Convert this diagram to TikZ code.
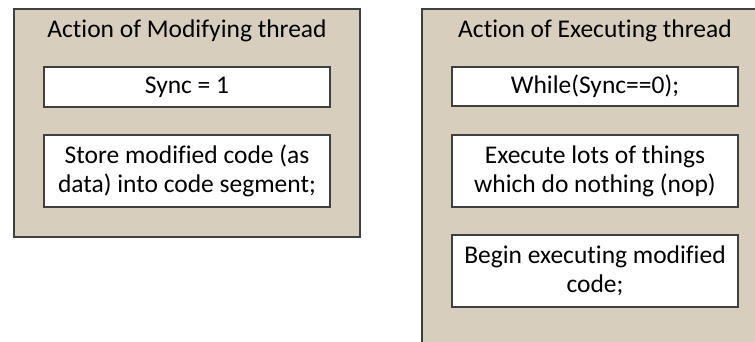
\documentclass[tikz,border=0pt]{standalone}
\usepackage{fontspec}
\setmainfont{Carlito}[Ligatures={NoCommon,NoRequired,NoContextual}]
\definecolor{tanbg}{RGB}{216,206,190}
\definecolor{edge}{RGB}{64,64,64}
\begin{document}
\begin{tikzpicture}[x=1pt,y=-1pt,
  outerbox/.style={draw=edge,line width=1.5pt,fill=tanbg},
  stepbox/.style={draw=edge,line width=1.5pt,fill=white,inner sep=0pt,align=center,
    font=\fontsize{25.5}{29}\selectfont},
  titletext/.style={font=\fontsize{25.5}{29}\selectfont,inner sep=0pt}]
\useasboundingbox (0,0) rectangle (755,342);
\clip (0,0) rectangle (755,342);
\fill[white] (0,0) rectangle (755,342);
% left panel
\draw[outerbox] (14,9) rectangle (360,237);
\node[titletext] (ltitle) at (187,31) {Action of Modifying thread};
\node[stepbox,minimum width=286pt,minimum height=40pt] (sync) at (187,87) {Sync = 1};
\node[stepbox,minimum width=286pt,minimum height=72pt] (store) at (187,171) {Store modified code (as\\data) into code segment;};
% right panel
\draw[outerbox] (422,9) rectangle (770,360);
\node[titletext] (rtitle) at (595,31) {Action of Executing thread};
\node[stepbox,minimum width=286pt,minimum height=39pt] (while) at (595,86.5) {While(Sync==0);};
\node[stepbox,minimum width=286pt,minimum height=72pt] (nop) at (595,171) {Execute lots of things\\which do nothing (nop)};
\node[stepbox,minimum width=286pt,minimum height=72pt] (begin) at (595,271) {Begin executing modified\\code;};
\end{tikzpicture}
\end{document}
